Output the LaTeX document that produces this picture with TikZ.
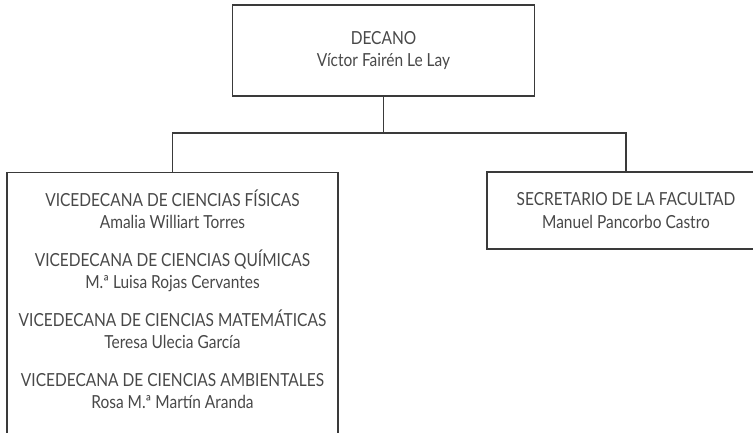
\documentclass[tikz,border=0pt]{standalone}
\usepackage{fontspec}
\setmainfont{Lato}[FakeStretch=0.86]
\usepackage{tikz}
\usetikzlibrary{positioning}
\definecolor{linegray}{RGB}{58,58,58}
\definecolor{textgray}{RGB}{72,72,72}

\begin{document}
\begin{tikzpicture}
  [x=1pt, y=-1pt,
  orgbox/.style={rectangle, draw=linegray, line width=1.1pt, text=textgray, align=center, inner sep=0pt, font=\fontsize{18}{22.5}\selectfont},
  orgtext/.style={text=textgray, align=center, inner sep=0pt, font=\fontsize{18}{22.5}\selectfont},
  link/.style={draw=linegray, line width=1.1pt}]
  \clip (0,0) rectangle (753,433);

% Dean
\node (decano) [orgbox, minimum width=302pt, minimum height=91pt] at (383.5,50.5) {DECANO\\Víctor Fairén Le Lay};
\coordinate (split) at (383.5,133);
\draw[link] (decano) -- (split);

% Vice-deans
\node (vice) [orgbox, anchor=north, minimum width=331pt, minimum height=300pt] at (172.5,172) {};
\node (vice-txt) [orgtext, below=17.5pt of vice.north] {VICEDECANA DE CIENCIAS FÍSICAS\\Amalia Williart Torres\\[15pt]
  VICEDECANA DE CIENCIAS QUÍMICAS\\M.ª Luisa Rojas Cervantes\\[15pt]
  VICEDECANA DE CIENCIAS MATEMÁTICAS\\Teresa Ulecia García\\[15pt]
  VICEDECANA DE CIENCIAS AMBIENTALES\\Rosa M.ª Martín Aranda};
\draw[link] (split) -| (vice);

% Secretary
\node (secre) [orgbox, minimum width=278pt, minimum height=77pt] at (626,210.5) {SECRETARIO DE LA FACULTAD\\Manuel Pancorbo Castro};
\draw[link] (split) -| (secre);
\end{tikzpicture}
\end{document}
